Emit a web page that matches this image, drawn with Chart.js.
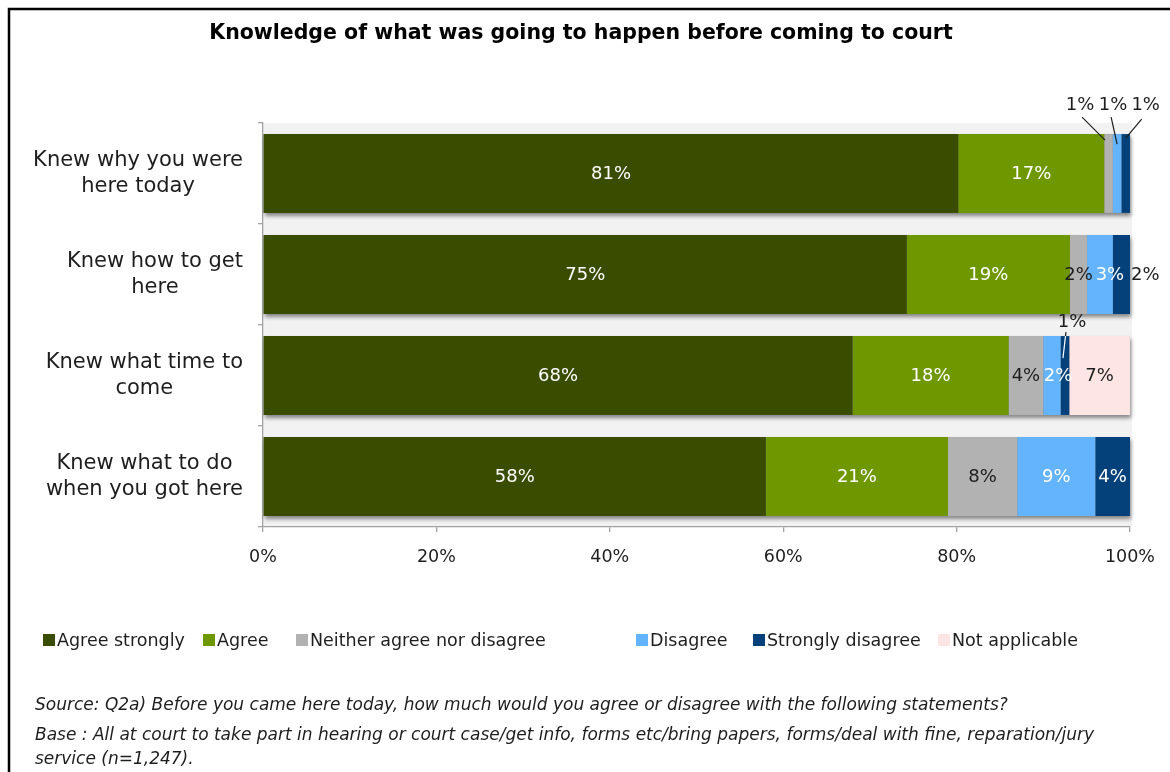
<!DOCTYPE html>
<html>
<head>
<meta charset="utf-8">
<script src="https://cdn.jsdelivr.net/npm/chart.js@4.4.1/dist/chart.umd.min.js"></script>
<style>
  html, body { margin: 0; padding: 0; background: #ffffff; }
  #wrap { width: 1170px; height: 772px; position: relative; }
</style>
</head>
<body>
<div id="wrap"><canvas id="chart" width="1170" height="772"></canvas></div>
<script>
// ---- data -------------------------------------------------------------
const categories = [
  ['Knew why you were', 'here today'],
  ['Knew how to get', 'here'],
  ['Knew what time to', 'come'],
  ['Knew what to do', 'when you got here']
];
const seriesNames = ['Agree strongly', 'Agree', 'Neither agree nor disagree', 'Disagree', 'Strongly disagree', 'Not applicable'];
const agreeStrongly    = [81, 75, 68, 58];
const agree            = [17, 19, 18, 21];
const neither          = [1, 2, 4, 8];
const disagree         = [1, 3, 2, 9];
const stronglyDisagree = [1, 2, 1, 4];
const notApplicable    = [0, 0, 7, 0];
const xTickValues = [0, 20, 40, 60, 80, 100];

const chartTitle = 'Knowledge of what was going to happen before coming to court';
const footnotes = [
  'Source: Q2a) Before you came here today, how much would you agree or disagree with the following statements?',
  'Base : All at court to take part in hearing or court case/get info, forms etc/bring papers, forms/deal with fine, reparation/jury',
  'service (n=1,247).'
];

// ---- styling -----------------------------------------------------------
const seriesColors = ['#394c00', '#6f9800', '#b2b2b2', '#63b4fc', '#04417a', '#fde5e4'];
const labelColors  = ['#ffffff', '#ffffff', '#1e1e1e', '#ffffff', '#ffffff', '#1e1e1e'];
const FONT = '"DejaVu Sans", sans-serif';

// 100% stacked: each row is scaled by its own total
const seriesValues = [agreeStrongly, agree, neither, disagree, stronglyDisagree, notApplicable];
const rowTotals = categories.map((_, i) => seriesValues.reduce((s, arr) => s + arr[i], 0));
const shareOf = arr => arr.map((v, i) => v / rowTotals[i] * 100);

// label placement tweaks: key = series-row
const labelPlacement = {
  '2-0': { callout: true, dx: -28.5, dy: -29, from: [2, 12], to: [-3.5, 6] },
  '3-0': { callout: true, dx: -4,    dy: -29, from: [-2, 12], to: [0, 10] },
  '4-0': { callout: true, dx: 20,    dy: -29, from: [-4, 14], to: [0, 4] },
  '3-1': { dx: 10 },
  '4-1': { dx: 24, color: '#1e1e1e' },
  '3-2': { dx: 6 },
  '4-2': { callout: true, dx: 7, dy: -14, from: [-6, 10], to: [-2, 22], innerWhite: true }
};

// ---- plugins -----------------------------------------------------------
const backdrop = {
  id: 'backdrop',
  beforeDraw(chart) {
    const { ctx, chartArea: a, width, height } = chart;
    ctx.save();
    ctx.fillStyle = '#ffffff';
    ctx.fillRect(0, 0, width, height);
    // frame
    ctx.strokeStyle = '#000000';
    ctx.lineWidth = 2.5;
    ctx.beginPath();
    ctx.moveTo(9, height + 5);
    ctx.lineTo(9, 9);
    ctx.lineTo(width + 5, 9);
    ctx.stroke();
    // plot area fill
    ctx.fillStyle = '#f2f2f2';
    ctx.fillRect(a.left, a.top, a.right - a.left + 2, a.bottom - a.top);
    ctx.restore();
  }
};

const barShadow = {
  id: 'barShadow',
  beforeDatasetsDraw(chart) {
    const { ctx } = chart;
    const metas = chart.getSortedVisibleDatasetMetas();
    categories.forEach((_, i) => {
      let left = Infinity, right = -Infinity, y = 0, h = 0;
      metas.forEach(m => {
        const p = m.data[i].getProps(['x', 'base', 'y', 'height'], true);
        left = Math.min(left, p.x, p.base);
        right = Math.max(right, p.x, p.base);
        y = p.y; h = p.height;
      });
      ctx.save();
      ctx.shadowColor = 'rgba(0,0,0,0.45)';
      ctx.shadowBlur = 4;
      ctx.shadowOffsetX = 1;
      ctx.shadowOffsetY = 3;
      ctx.fillStyle = '#777777';
      ctx.fillRect(left, y - h / 2, right - left, h);
      ctx.restore();
    });
  }
};

const valueLabels = {
  id: 'valueLabels',
  afterDatasetsDraw(chart) {
    const { ctx } = chart;
    ctx.save();
    ctx.font = '18px ' + FONT;
    ctx.textAlign = 'center';
    ctx.textBaseline = 'middle';
    chart.getSortedVisibleDatasetMetas().forEach(m => {
      const s = m.index;
      m.data.forEach((el, i) => {
        const v = seriesValues[s][i];
        if (!v) return;
        const p = el.getProps(['x', 'base', 'y', 'height'], true);
        const cx = (p.x + p.base) / 2;
        const top = p.y - p.height / 2;
        const place = labelPlacement[s + '-' + i] || {};
        const text = v + '%';
        if (place.callout) {
          const lx = cx + place.dx;
          const ly = top + place.dy;
          const x1 = lx + place.from[0], y1 = ly + place.from[1];
          const x2 = cx + place.to[0], y2 = top + place.to[1];
          ctx.strokeStyle = '#1e1e1e';
          ctx.lineWidth = 1.2;
          ctx.beginPath();
          if (place.innerWhite) {
            // dark above the bar, light where it crosses the bar
            const t = (top - y1) / (y2 - y1);
            const xm = x1 + (x2 - x1) * t;
            ctx.moveTo(x1, y1); ctx.lineTo(xm, top); ctx.stroke();
            ctx.strokeStyle = '#ffffff';
            ctx.beginPath();
            ctx.moveTo(xm, top); ctx.lineTo(x2, y2); ctx.stroke();
          } else {
            ctx.moveTo(x1, y1); ctx.lineTo(x2, y2); ctx.stroke();
          }
          ctx.fillStyle = '#1e1e1e';
          ctx.fillText(text, lx, ly);
        } else {
          ctx.fillStyle = place.color || labelColors[s];
          ctx.fillText(text, cx + (place.dx || 0), p.y + 1);
        }
      });
    });
    ctx.restore();
  }
};

const chartText = {
  id: 'chartText',
  afterDraw(chart) {
    const { ctx } = chart;
    const yScale = chart.scales.y;
    ctx.save();
    // title
    ctx.fillStyle = '#000000';
    ctx.font = 'bold 20.5px ' + FONT;
    ctx.textAlign = 'center';
    ctx.textBaseline = 'middle';
    ctx.fillText(chartTitle, 581, 34);

    // category labels: each block right-aligned, lines centred in the block
    ctx.font = '21px ' + FONT;
    ctx.fillStyle = '#1e1e1e';
    const rightEdge = yScale.right - 20;
    const lineH = 26;
    categories.forEach((lines, i) => {
      const cy = yScale.getPixelForTick(i);
      const widest = Math.max(...lines.map(l => ctx.measureText(l).width));
      const cx = rightEdge - widest / 2;
      lines.forEach((l, k) => {
        ctx.fillText(l, cx, cy + (k - (lines.length - 1) / 2) * lineH);
      });
    });

    // legend
    const legendX = [43, 203, 296, 636, 753, 938];
    ctx.font = '17.5px ' + FONT;
    ctx.textAlign = 'left';
    seriesNames.forEach((name, s) => {
      ctx.fillStyle = seriesColors[s];
      ctx.fillRect(legendX[s], 634, 12, 12);
      ctx.fillStyle = '#1e1e1e';
      ctx.fillText(name, legendX[s] + 14, 641);
    });

    // notes
    ctx.font = 'italic 17px ' + FONT;
    ctx.fillStyle = '#1e1e1e';
    const noteY = [706, 736, 760];
    footnotes.forEach((t, k) => ctx.fillText(t, 35, noteY[k]));
    ctx.restore();
  }
};

// ---- chart -------------------------------------------------------------
new Chart(document.getElementById('chart'), {
  type: 'bar',
  data: {
    labels: categories,
    datasets: seriesValues.map((arr, s) => ({
      label: seriesNames[s],
      data: shareOf(arr),
      backgroundColor: seriesColors[s],
      borderWidth: 0,
      barPercentage: 0.78,
      categoryPercentage: 1.0
    }))
  },
  options: {
    indexAxis: 'y',
    responsive: false,
    animation: false,
    layout: { padding: { left: 0, right: 39, top: 123, bottom: 200 } },
    plugins: {
      legend: { display: false },
      title: { display: false },
      tooltip: { enabled: false }
    },
    scales: {
      x: {
        stacked: true,
        min: 0,
        max: 100,
        afterBuildTicks(scale) { scale.ticks = xTickValues.map(v => ({ value: v })); },
        afterFit(scale) { scale.height = 45; },
        ticks: {
          callback: v => v + '%',
          font: { family: FONT, size: 17.5 },
          color: '#1e1e1e',
          padding: 15,
          maxRotation: 0
        },
        grid: { drawOnChartArea: false, drawTicks: true, tickLength: 5, color: '#a3a3a3', lineWidth: 1.3 },
        border: { display: true, color: '#a3a3a3', width: 1.3 }
      },
      y: {
        stacked: true,
        afterFit(scale) { scale.width = 263; },
        ticks: { color: 'rgba(0,0,0,0)', font: { family: FONT, size: 20 } },
        grid: { drawOnChartArea: false, drawTicks: true, tickLength: 5, color: '#a3a3a3', lineWidth: 1.3, offset: true },
        border: { display: true, color: '#a3a3a3', width: 1.3 }
      }
    }
  },
  plugins: [backdrop, barShadow, valueLabels, chartText]
});
</script>
</body>
</html>
